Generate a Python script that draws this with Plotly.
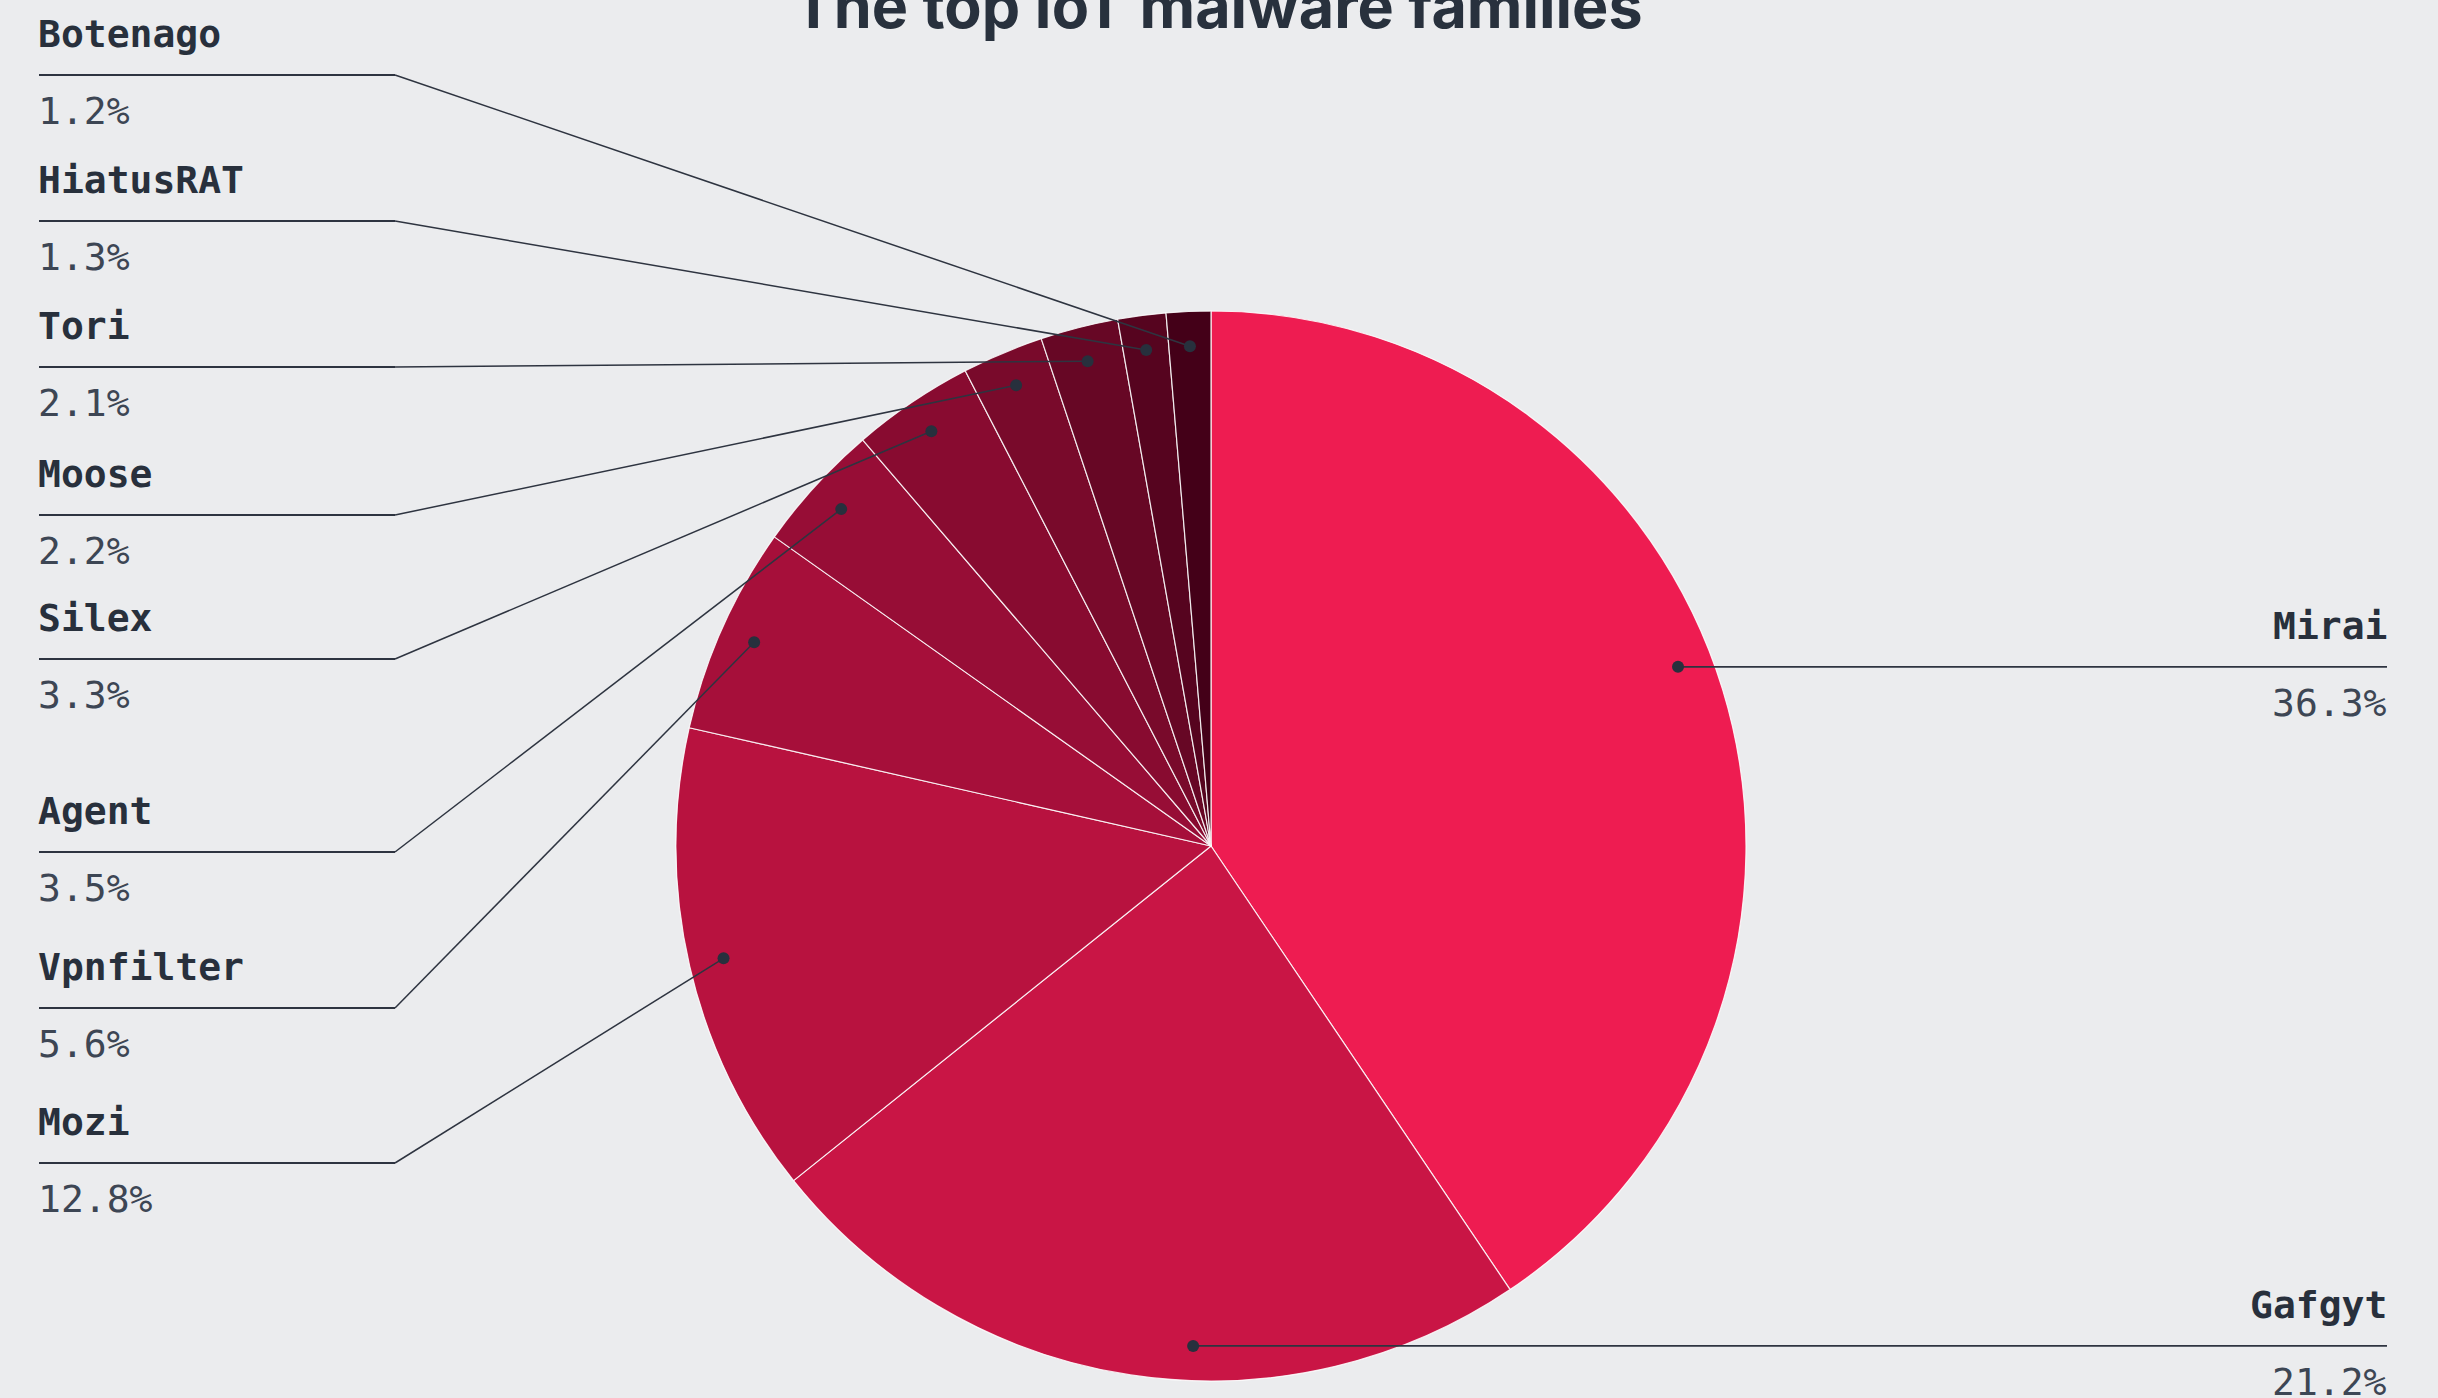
import math
import plotly.graph_objects as go

# ---- data ----
families = ["Mirai", "Gafgyt", "Mozi", "Vpnfilter", "Agent", "Silex",
            "Moose", "Tori", "HiatusRAT", "Botenago"]
shares = [36.3, 21.2, 12.8, 5.6, 3.5, 3.3, 2.2, 2.1, 1.3, 1.2]
colors = ["#EE1C51", "#C91545", "#B8123F", "#A60F3A", "#970D36",
          "#880B30", "#790A2B", "#670725", "#56041F", "#440018"]
title_text = "The top IoT malware families"

# ---- layout constants (pixels) ----
W, H = 2438, 1398
CX, CY, R = 1211, 846, 535
DOT_R = 0.935
BG = "#EBECEE"
NAME_COL = "#28303C"
PCT_COL = "#3D4654"
LINE_COL = "#2E3440"
DOT_COL = "#27303D"
MONO = "DejaVu Sans Mono"
LBL_SIZE = 38

left_order = ["Botenago", "HiatusRAT", "Tori", "Moose", "Silex", "Agent", "Vpnfilter", "Mozi"]
left_line_y = [75, 221, 367, 515, 659, 852, 1008, 1163]
LEFT_X0, LEFT_BEND = 39, 395
RIGHT_X1 = 2387
right_order = ["Mirai", "Gafgyt"]
dot_angle_shift = {"Mirai": -4.0, "Gafgyt": -6.6}   # degrees, leader anchor tweak

fig = go.Figure()

fig.add_trace(go.Pie(
    labels=families, values=shares, sort=False, direction="clockwise",
    rotation=0, textinfo="none", showlegend=False,
    marker=dict(colors=colors, line=dict(color="rgba(255,255,255,0.85)", width=1.2)),
    domain=dict(x=[(CX - R) / W, (CX + R) / W],
                y=[(H - CY - R) / H, (H - CY + R) / H]),
    hovertemplate="%{label}: %{value}%<extra></extra>",
))

# invisible trace to activate the pixel-space cartesian axes
fig.add_trace(go.Scatter(x=[0, W], y=[0, H], mode="markers", marker=dict(opacity=0),
                         hoverinfo="skip", showlegend=False))

total = sum(shares)
cum = 0.0
dots = {}
for name, v in zip(families, shares):
    mid_deg = (cum + v / 2) / total * 360 + dot_angle_shift.get(name, 0.0)
    cum += v
    a = math.radians(mid_deg)
    dots[name] = (CX + DOT_R * R * math.sin(a), CY - DOT_R * R * math.cos(a))

annotations = []
shapes = []

def label(x, y, name, pct, anchor):
    annotations.append(dict(x=x, y=y - 41, xref="x", yref="y", text="<b>%s</b>" % name,
                            showarrow=False, xanchor=anchor, yanchor="middle",
                            font=dict(family=MONO, size=LBL_SIZE, color=NAME_COL)))
    annotations.append(dict(x=x, y=y + 36, xref="x", yref="y", text="%.1f%%" % pct,
                            showarrow=False, xanchor=anchor, yanchor="middle",
                            font=dict(family=MONO, size=LBL_SIZE, color=PCT_COL)))

def seg(x0, y0, x1, y1, w):
    shapes.append(dict(type="line", xref="x", yref="y", x0=x0, y0=y0, x1=x1, y1=y1,
                       line=dict(color=LINE_COL, width=w), layer="above"))

val = dict(zip(families, shares))
for name, ly in zip(left_order, left_line_y):
    dx, dy = dots[name]
    seg(LEFT_X0, ly, LEFT_BEND, ly, 1.8)
    seg(LEFT_BEND, ly, dx, dy, 1.5)
    label(LEFT_X0 - 3, ly, name, val[name], "left")

for name in right_order:
    dx, dy = dots[name]
    seg(dx, dy, RIGHT_X1, dy, 1.8)
    label(RIGHT_X1 + 2, dy, name, val[name], "right")

for name in families:
    dx, dy = dots[name]
    shapes.append(dict(type="circle", xref="x", yref="y", x0=dx - 6, y0=dy - 6,
                       x1=dx + 6, y1=dy + 6, fillcolor=DOT_COL, line=dict(width=0),
                       layer="above"))

annotations.append(dict(x=1218, y=6, xref="x", yref="y", text="<b>%s</b>" % title_text,
                        showarrow=False, xanchor="center", yanchor="middle",
                        font=dict(family="Inter", size=61, color="#28313D", weight=800)))

fig.update_layout(
    width=W, height=H, margin=dict(l=0, r=0, t=0, b=0),
    paper_bgcolor=BG, plot_bgcolor="rgba(0,0,0,0)",
    xaxis=dict(range=[0, W], visible=False, fixedrange=True),
    yaxis=dict(range=[H, 0], visible=False, fixedrange=True),
    annotations=annotations, shapes=shapes,
)

fig.write_html("out.html", config={"displayModeBar": False},
               post_script="document.body.style.margin='0';document.body.style.overflow='hidden';")
